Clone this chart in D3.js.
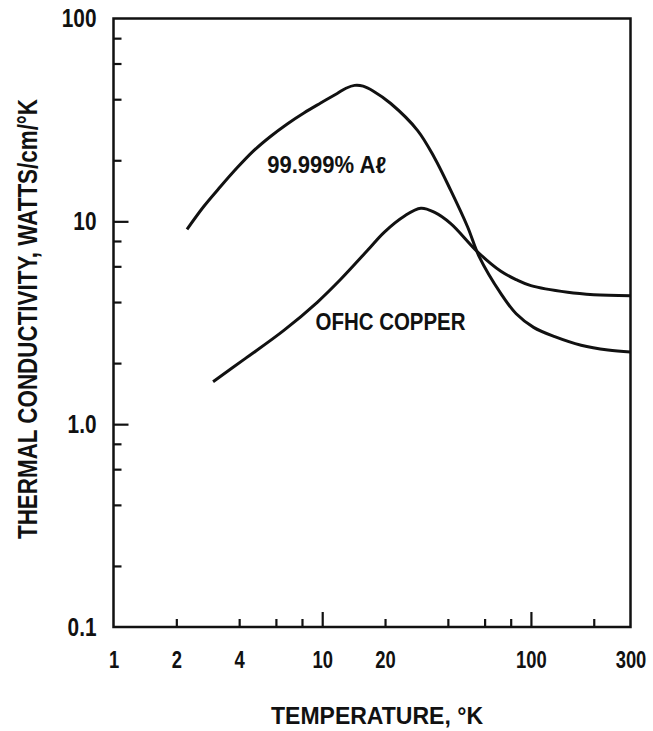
<!DOCTYPE html>
<html>
<head>
<meta charset="utf-8">
<script src="https://d3js.org/d3.v7.min.js"></script>
<style>
  body { margin: 0; background: #fff; }
  svg { display: block; }
  text { font-family: "Liberation Sans", Arial, sans-serif; font-weight: bold; fill: #111; }
</style>
</head>
<body>
<svg id="chart" width="653" height="731"></svg>
<script>
// 99.999% aluminium, thermal conductivity (W/cm/K) vs temperature (K)
var alTemp = [2.25, 2.7, 3.25, 3.9, 4.7, 5.65, 6.8, 8.17, 9.83, 11.8, 13.0, 14.3, 15.7, 17.6, 21.3, 28.6, 34.4, 41.3, 49.7, 56.5, 71.8, 85, 103, 130, 174, 234, 300]
var alK    = [9.13, 11.8, 14.8, 18.3, 22.3, 26.2, 30.2, 34.2, 38.3, 42.7, 45.3, 46.8, 46.4, 43.8, 38.1, 28.1, 20.7, 14.2, 9.4, 6.7, 4.4, 3.5, 3.0, 2.7, 2.45, 2.32, 2.27]

// OFHC copper
var cuTemp = [3.0, 4.29, 6.55, 9.47, 12.2, 16.5, 19.8, 24.7, 29.7, 34.4, 41.3, 55.6, 71.8, 85, 100, 150, 200, 300]
var cuK    = [1.62, 2.11, 2.9, 3.99, 5.15, 7.2, 8.83, 10.6, 11.6, 11.1, 9.75, 7.06, 5.67, 5.16, 4.82, 4.47, 4.35, 4.3]

var xLabelValues = [1, 2, 4, 10, 20, 100, 300]
var xMinorTicks = [2, 4, 6, 8, 20, 40, 60, 80, 200]
var xMajorTicks = [10, 100]
var yLabelValues = [0.1, 1, 10, 100]
var yLabelText = ["0.1", "1.0", "10", "100"]
var yMinorTicks = [0.2, 0.4, 0.6, 0.8, 2, 4, 6, 8, 20, 40, 60, 80]
var yMajorTicks = [1, 10]

// curve labels, anchored in data space (T, k)
var alLabel = {text: "99.999% A\u2113", t: 5.45, k: 17.4}
var cuLabel = {text: "OFHC COPPER", t: 9.29, k: 2.9}

var margin = {top: 18.5, right: 22.5, bottom: 104, left: 113.5}
var width = 653 - margin.left - margin.right
var height = 731 - margin.top - margin.bottom

var svg = d3.select("#chart")
var g = svg.append("g")
  .attr("transform", "translate(" + margin.left + "," + margin.top + ")")

var x = d3.scaleLog().domain([1, 300]).range([0, width])
var y = d3.scaleLog().domain([0.1, 100]).range([height, 0])

// inward ticks
function styleTicks(sel) {
  sel.select(".domain").remove()
  sel.selectAll("line").attr("stroke", "#111").attr("stroke-width", 2.2)
}
g.append("g")
  .attr("transform", "translate(0," + height + ")")
  .call(d3.axisBottom(x).tickValues(xMinorTicks).tickSize(-8).tickFormat(""))
  .call(styleTicks)
g.append("g")
  .attr("transform", "translate(0," + height + ")")
  .call(d3.axisBottom(x).tickValues(xMajorTicks).tickSize(-15).tickFormat(""))
  .call(styleTicks)
g.append("g")
  .call(d3.axisLeft(y).tickValues(yMinorTicks).tickSize(-8).tickFormat(""))
  .call(styleTicks)
g.append("g")
  .call(d3.axisLeft(y).tickValues(yMajorTicks).tickSize(-15).tickFormat(""))
  .call(styleTicks)

// tick labels
var xLab = g.append("g")
  .attr("transform", "translate(0," + height + ")")
  .call(d3.axisBottom(x).tickValues(xLabelValues).tickSize(0).tickPadding(25).tickFormat(d3.format("d")))
xLab.select(".domain").remove()
xLab.selectAll("text").style("font-size", "23px")

var yLab = g.append("g")
  .call(d3.axisLeft(y).tickValues(yLabelValues).tickSize(0).tickPadding(17)
    .tickFormat(function(d, i) { return yLabelText[i] }))
yLab.select(".domain").remove()
yLab.selectAll("text").style("font-size", "26px")

// frame
g.append("rect")
  .attr("x", 0).attr("y", 0)
  .attr("width", width).attr("height", height)
  .attr("fill", "none")
  .attr("stroke", "#111")
  .attr("stroke-width", 2.5)

var line = d3.line()
  .x(function(d) { return x(d[0]) })
  .y(function(d) { return y(d[1]) })
  .curve(d3.curveCatmullRom.alpha(0.5))

g.append("path")
  .datum(d3.zip(alTemp, alK))
  .attr("d", line)
  .attr("fill", "none").attr("stroke", "#111").attr("stroke-width", 3)

g.append("path")
  .datum(d3.zip(cuTemp, cuK))
  .attr("d", line)
  .attr("fill", "none").attr("stroke", "#111").attr("stroke-width", 3)

g.append("text")
  .attr("x", x(alLabel.t)).attr("y", y(alLabel.k))
  .attr("textLength", 119).attr("lengthAdjust", "spacingAndGlyphs")
  .style("font-size", "23px")
  .text(alLabel.text)

g.append("text")
  .attr("x", x(cuLabel.t)).attr("y", y(cuLabel.k))
  .attr("textLength", 150).attr("lengthAdjust", "spacingAndGlyphs")
  .style("font-size", "23px")
  .text(cuLabel.text)

// axis titles
svg.append("text")
  .attr("x", 377).attr("y", 724)
  .attr("text-anchor", "middle")
  .attr("textLength", 212).attr("lengthAdjust", "spacingAndGlyphs")
  .style("font-size", "24px")
  .text("TEMPERATURE, \u00b0K")

svg.append("text")
  .attr("transform", "translate(37,319) rotate(-90)")
  .attr("text-anchor", "middle")
  .attr("textLength", 440).attr("lengthAdjust", "spacingAndGlyphs")
  .style("font-size", "27px")
  .text("THERMAL CONDUCTIVITY, WATTS/cm/\u00b0K")

// condensed look for the tick numbers
svg.selectAll(".tick text").each(function() {
  var len = this.getComputedTextLength()
  d3.select(this).attr("textLength", len * 0.8).attr("lengthAdjust", "spacingAndGlyphs")
})
</script>
</body>
</html>
